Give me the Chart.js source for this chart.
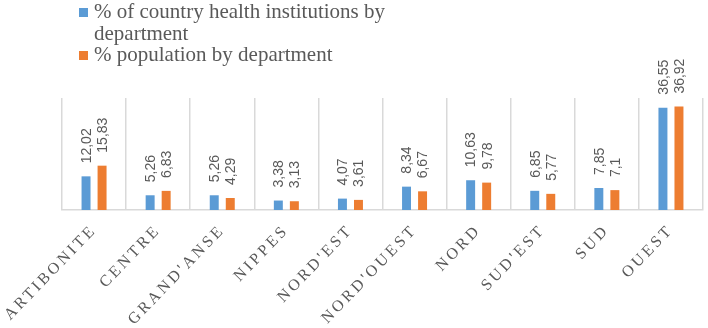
<!DOCTYPE html>
<html>
<head>
<meta charset="utf-8">
<script src="https://cdn.jsdelivr.net/npm/chart.js@4"></script>
<style>
    html, body { margin: 0; padding: 0; background: #fff; }
    #wrap { position: relative; width: 708px; height: 328px; }
    #legend { position: absolute; left: 79px; top: 1px; font-family: "Liberation Serif", serif; font-size: 21px; color: #595959; line-height: 21.5px; }
    #legend .item { position: relative; padding-left: 15px; }
    #legend .box { position: absolute; left: 0; top: 7px; width: 9px; height: 9px; }
</style>
</head>
<body>
<div id="wrap">
    <canvas id="barchart" width="708" height="328"></canvas>
    <div id="legend"></div>
</div>
<script>
// Data
var departments = ['ARTIBONITE', 'CENTRE', "GRAND'ANSE", 'NIPPES', "NORD'EST", "NORD'OUEST", 'NORD', "SUD'EST", 'SUD', 'OUEST'];
var institutions = [12.02, 5.26, 5.26, 3.38, 4.07, 8.34, 10.63, 6.85, 7.85, 36.55];
var population = [15.83, 6.83, 4.29, 3.13, 3.61, 6.67, 9.78, 5.77, 7.1, 36.92];
var seriesLabels = ['% of country health institutions by department', '% population by department'];
var seriesColors = ['#5B9BD5', '#ED7D31'];

// rotated value labels above bars
var valueLabels = {
    id: 'valueLabels',
    beforeDraw: function (chart) {
        chart.ctx.letterSpacing = '3px';
    },
    afterDatasetsDraw: function (chart) {
        var ctx = chart.ctx;
        chart.data.datasets.forEach(function (ds, i) {
            chart.getDatasetMeta(i).data.forEach(function (bar, j) {
                ctx.save();
                ctx.letterSpacing = '0px';
                ctx.font = '14px "Liberation Sans", sans-serif';
                ctx.fillStyle = '#595959';
                ctx.translate(bar.x + 1, bar.y - 13);
                ctx.rotate(-Math.PI / 2);
                ctx.textAlign = 'left';
                ctx.textBaseline = 'middle';
                ctx.fillText(String(ds.data[j]).replace('.', ','), 0, 0);
                ctx.restore();
            });
        });
    }
};

var chart1 = document.getElementById('barchart');
var myChart1 = new Chart(chart1, {
    type: 'bar',
    data: {
        labels: departments,
        datasets: [{
            label: seriesLabels[0],
            backgroundColor: seriesColors[0],
            data: institutions,
            categoryPercentage: 0.5,
            barPercentage: 0.56
        }, {
            label: seriesLabels[1],
            backgroundColor: seriesColors[1],
            data: population,
            categoryPercentage: 0.5,
            barPercentage: 0.56
        }]
    },
    options: {
        responsive: false,
        animation: false,
        layout: {
            padding: { left: 62, right: 5, top: 98, bottom: 0 }
        },
        scales: {
            x: {
                grid: {
                    color: '#d9d9d9',
                    lineWidth: 1.5,
                    drawTicks: false
                },
                border: { color: '#d9d9d9', width: 1.5 },
                ticks: {
                    color: '#595959',
                    font: { family: '"Liberation Serif", serif', size: 16 },
                    minRotation: 46,
                    maxRotation: 46,
                    padding: 11
                },
                afterFit: function (scale) {
                    scale.height = 118;
                    scale.paddingLeft = 0;
                    scale.paddingRight = 0;
                }
            },
            y: {
                display: false,
                min: 0,
                max: 40
            }
        },
        plugins: {
            legend: { display: false },
            tooltip: { enabled: false }
        }
    },
    plugins: [valueLabels]
});

// legend
var legendBox = document.getElementById('legend');
seriesLabels.forEach(function (text, i) {
    var item = document.createElement('div');
    item.className = 'item';
    if (i === 0) item.style.width = '320px';
    var box = document.createElement('span');
    box.className = 'box';
    box.style.background = seriesColors[i];
    item.appendChild(box);
    item.appendChild(document.createTextNode(text));
    legendBox.appendChild(item);
});
</script>
</body>
</html>
